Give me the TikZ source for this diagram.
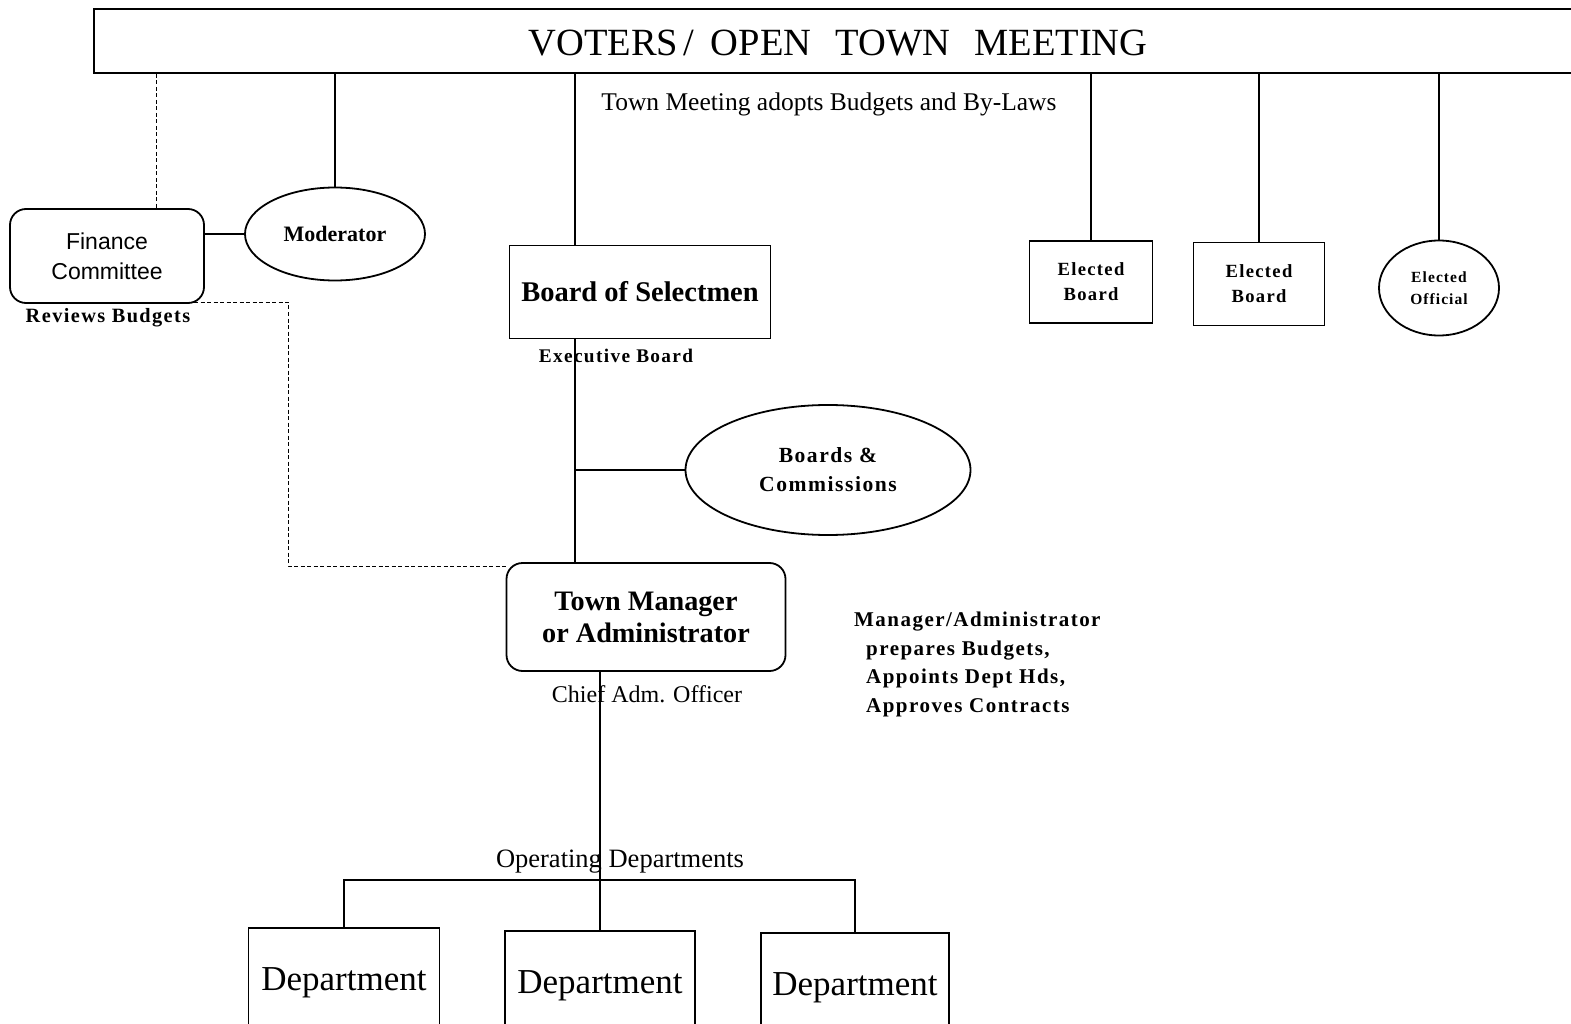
\documentclass[tikz,border=0pt]{standalone}
\usepackage{fontspec}
\setmainfont{Liberation Serif}
\newfontfamily\arialfont{Liberation Sans}
\newfontfamily\spacedbold[LetterSpace=7]{Liberation Serif}
\usetikzlibrary{shapes.geometric,positioning}

\tikzset{
  conn/.style={line width=1.6pt},
  dashconn/.style={line width=1pt, dash pattern=on 4pt off 2.5pt},
  plainbox/.style={draw, line width=1.8pt, inner sep=0pt, align=center},
  roundbox/.style={plainbox, rounded corners=16pt},
  oval/.style={draw, ellipse, line width=1.8pt, inner sep=0pt, align=center},
  lbl/.style={inner sep=0pt, align=center},
}

\begin{document}
\begin{tikzpicture}[x=1pt, y=-1pt]
  \clip (0,0) rectangle (1571,1024);
  % Voters banner
  \node[plainbox, minimum width=1500, minimum height=64] (voters) at (844,41) {};
  \node[lbl, font=\fontsize{38.5}{42}\selectfont] (title) at (838,43)
    {VOTERS\hspace{5pt}/\hspace{17pt}OPEN\hspace{24pt}TOWN\hspace{24pt}MEETING};
  \node[lbl, font=\fontsize{25.5}{30}\selectfont] (adopts) at (829,104)
    {Town Meeting adopts Budgets and By-Laws};

  % Finance and moderator
  \node[roundbox, minimum width=194, minimum height=94,
        font=\arialfont\fontsize{23}{30}\selectfont] (fin) at (107,256) {Finance\\Committee};
  \node[lbl, font=\spacedbold\bfseries\fontsize{20.3}{24}\selectfont] (review) at (108,318) {Reviews Budgets};
  \node[oval, minimum width=180, minimum height=93,
        font=\bfseries\fontsize{22}{26}\selectfont] (mod) at (335,234) {Moderator};
  \coordinate (finlink) at (156,0);
  \draw[dashconn] (voters.south -| finlink) -- (fin.north -| finlink);
  \draw[conn] (voters.south -| mod.north) -- (mod.north);
  \draw[conn] (fin.east |- mod.west) -- (mod.west);

  % Selectmen
  \coordinate (spine) at (575,0);
  \node[plainbox, minimum width=261, minimum height=93,
        font=\bfseries\fontsize{28.5}{32}\selectfont] (bos) at (640,292) {Board of Selectmen};
  \node[lbl, font=\spacedbold\bfseries\fontsize{19.3}{22}\selectfont] (exec) at (616,356) {Executive Board};
  \draw[conn] (voters.south -| spine) -- (bos.north -| spine);

  % Elected boards
  \node[plainbox, minimum width=123, minimum height=82,
        font=\spacedbold\bfseries\fontsize{18.6}{25}\selectfont] (eb1) at (1091,282) {Elected\\Board};
  \node[plainbox, minimum width=131, minimum height=83,
        font=\spacedbold\bfseries\fontsize{18.6}{25}\selectfont] (eb2) at (1259,284) {Elected\\Board};
  \node[oval, minimum width=120, minimum height=95,
        font=\spacedbold\bfseries\fontsize{15.5}{22}\selectfont] (eo) at (1439,288) {Elected\\Official};
  \foreach \el in {eb1,eb2,eo}
    \draw[conn] (voters.south -| \el.north) -- (\el.north);

  % Boards and commissions
  \node[oval, minimum width=285, minimum height=130,
        font=\spacedbold\bfseries\fontsize{21.6}{29}\selectfont] (bc) at (828,470) {Boards \&\\Commissions};

  % Town manager
  \node[roundbox, minimum width=279, minimum height=108,
        font=\bfseries\fontsize{28.2}{32}\selectfont] (tm) at (646,617) {Town Manager\\or Administrator};
  \node[lbl, font=\fontsize{24}{28}\selectfont] (chief) at (647,694) {Chief Adm. Officer};
  \node[lbl, anchor=north west, align=left,
        font=\spacedbold\bfseries\fontsize{21}{28.5}\selectfont] (duties) at (854,612)
    {Manager/Administrator\\
     \hspace{12pt}prepares Budgets,\\
     \hspace{12pt}Appoints Dept Hds,\\
     \hspace{12pt}Approves Contracts};
  \draw[conn] (bos.south -| spine) -- (tm.north -| spine);
  \draw[conn] (spine |- bc.west) -- (bc.west);
  \draw[dashconn] (194,302) -- (288,302) -- (288,566) -- (tm.west |- 0,566);

  % Departments
  \node[lbl, font=\fontsize{26.5}{30}\selectfont] (opdept) at (620,862) {Operating Departments};
  \node[plainbox, minimum width=191, minimum height=110,
        font=\fontsize{35}{40}\selectfont] (d1) at (344,983) {Department};
  \node[plainbox, minimum width=190, minimum height=110,
        font=\fontsize{35}{40}\selectfont] (d2) at (600,986) {Department};
  \node[plainbox, minimum width=188, minimum height=110,
        font=\fontsize{35}{40}\selectfont] (d3) at (855,988) {Department};
  \coordinate (bar) at (0,880);
  \draw[conn] (d1.north) -- (d1.north |- bar) -- (d3.north |- bar) -- (d3.north);
  \draw[conn] (tm.south -| d2.north) -- (d2.north);
\end{tikzpicture}
\end{document}
